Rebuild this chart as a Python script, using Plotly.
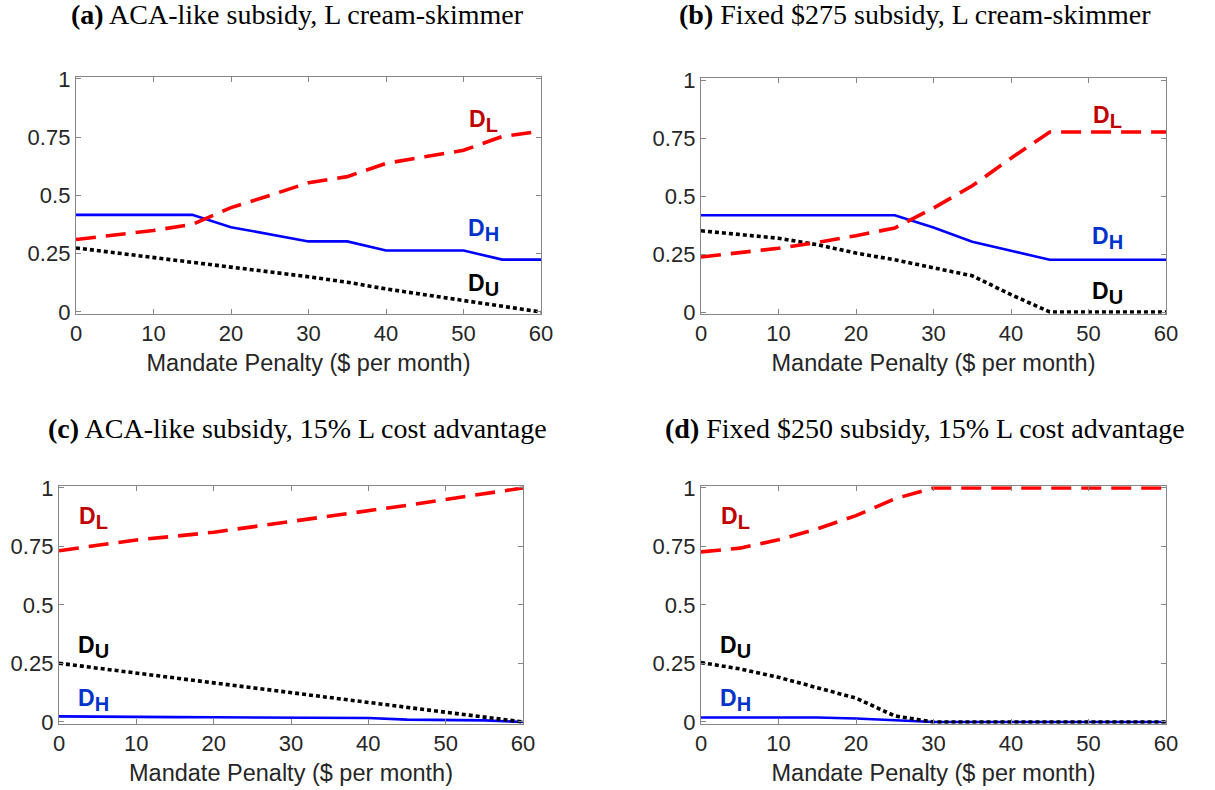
import plotly.graph_objects as go

x_penalty = [0, 5, 10, 15, 20, 25, 30, 35, 40, 45, 50, 55, 60]

# Panel (a): ACA-like subsidy, L cream-skimmer
a_DL = [0.311, 0.330, 0.350, 0.376, 0.448, 0.500, 0.555, 0.581, 0.638, 0.666, 0.694, 0.753, 0.776]
a_DH = [0.417, 0.417, 0.417, 0.417, 0.364, 0.333, 0.303, 0.303, 0.264, 0.264, 0.264, 0.225, 0.225]
a_DU = [0.275, 0.255, 0.235, 0.215, 0.194, 0.172, 0.151, 0.128, 0.099, 0.075, 0.050, 0.025, 0.0]

# Panel (b): Fixed $275 subsidy, L cream-skimmer
b_DL = [0.237, 0.256, 0.275, 0.300, 0.329, 0.362, 0.448, 0.544, 0.663, 0.776, 0.776, 0.776, 0.776]
b_DH = [0.417, 0.417, 0.417, 0.417, 0.417, 0.417, 0.364, 0.303, 0.264, 0.225, 0.225, 0.225, 0.225]
b_DU = [0.350, 0.334, 0.318, 0.290, 0.254, 0.225, 0.189, 0.156, 0.075, 0.0, 0.0, 0.0, 0.0]

# Panel (c): ACA-like subsidy, 15% L cost advantage
c_DL = [0.732, 0.755, 0.778, 0.794, 0.811, 0.834, 0.857, 0.879, 0.901, 0.926, 0.951, 0.975, 1.0]
c_DH = [0.024, 0.024, 0.021, 0.021, 0.020, 0.019, 0.018, 0.018, 0.017, 0.010, 0.009, 0.007, 0.0]
c_DU = [0.251, 0.230, 0.209, 0.188, 0.167, 0.146, 0.125, 0.104, 0.084, 0.063, 0.042, 0.021, 0.0]

# Panel (d): Fixed $250 subsidy, 15% L cost advantage
d_DL = [0.727, 0.743, 0.779, 0.825, 0.882, 0.954, 1.0, 1.0, 1.0, 1.0, 1.0, 1.0, 1.0]
d_DH = [0.019, 0.019, 0.019, 0.019, 0.015, 0.008, 0.0, 0.0, 0.0, 0.0, 0.0, 0.0, 0.0]
d_DU = [0.254, 0.227, 0.191, 0.148, 0.102, 0.026, 0.0, 0.0, 0.0, 0.0, 0.0, 0.0, 0.0]

titles = [
    "<b>(a)</b> ACA-like subsidy, L cream-skimmer",
    "<b>(b)</b> Fixed $275 subsidy, L cream-skimmer",
    "<b>(c)</b> ACA-like subsidy, 15% L cost advantage",
    "<b>(d)</b> Fixed $250 subsidy, 15% L cost advantage",
]
x_ticks = [0, 10, 20, 30, 40, 50, 60]
y_ticks = [0, 0.25, 0.5, 0.75, 1]
y_ticklabels = ["0", "0.25", "0.5", "0.75", "1"]
x_title = "Mandate Penalty ($ per month)"

# label positions (data coords) per panel: (x, y) for D_L, D_H, D_U
label_pos = [
    {"L": (52.6, 0.82), "H": (52.6, 0.35), "U": (52.6, 0.115)},
    {"L": (52.5, 0.84), "H": (52.5, 0.32), "U": (52.5, 0.08)},
    {"L": (4.4, 0.87), "H": (4.4, 0.095), "U": (4.4, 0.32)},
    {"L": (4.4, 0.87), "H": (4.4, 0.095), "U": (4.4, 0.32)},
]

W, H = 1215, 790
# pixel boxes of plot areas: (left, right, top(y=1), bottom(y=0))
boxes = [
    (76, 541, 79, 312),
    (701, 1166, 80, 312),
    (59, 523, 488, 722),
    (701, 1166, 488, 722),
]
pad = 0.008

panels = [
    (a_DL, a_DH, a_DU),
    (b_DL, b_DH, b_DU),
    (c_DL, c_DH, c_DU),
    (d_DL, d_DH, d_DU),
]

fig = go.Figure()
layout = dict(
    width=W, height=H,
    margin=dict(l=0, r=0, t=0, b=0, autoexpand=False),
    paper_bgcolor="white", plot_bgcolor="white",
    showlegend=False,
    font=dict(family="Liberation Sans, Arial", color="#262626"),
)

annotations = []
tick_font = dict(family="Liberation Sans, Arial", size=22, color="#262626")
axis_color = "#868686"

for i, (DL, DH, DU) in enumerate(panels):
    n = "" if i == 0 else str(i + 1)
    xa, ya = "x" + n, "y" + n
    left, right, top, bottom = boxes[i]
    ppu = (bottom - top)
    ytop = top - pad * ppu
    ybot = bottom + pad * ppu
    dom_x = [left / W, right / W]
    dom_y = [1 - ybot / H, 1 - ytop / H]

    fig.add_trace(go.Scatter(x=x_penalty, y=DH, mode="lines", xaxis=xa, yaxis=ya,
                             line=dict(color="#0000FF", width=2.6)))
    fig.add_trace(go.Scatter(x=x_penalty, y=DU, mode="lines", xaxis=xa, yaxis=ya,
                             line=dict(color="#000000", width=3.6, dash="4px,3px")))
    fig.add_trace(go.Scatter(x=x_penalty, y=DL, mode="lines", xaxis=xa, yaxis=ya,
                             line=dict(color="#FF0000", width=3.6, dash="20px,10px")))

    layout["xaxis" + n] = dict(
        domain=dom_x, range=[0, 60], anchor=ya, tickvals=x_ticks,
        ticks="inside", ticklen=5, tickcolor=axis_color, showline=True,
        linecolor=axis_color, linewidth=1.3, mirror="ticks", showgrid=False,
        zeroline=False, tickfont=tick_font, automargin=False,
        title=dict(text=x_title, font=dict(family="Liberation Sans, Arial", size=23.5, color="#262626"),
                   standoff=9),
    )
    layout["yaxis" + n] = dict(
        domain=dom_y, range=[-pad, 1 + pad], anchor=xa, tickvals=y_ticks,
        ticktext=y_ticklabels, ticks="inside", ticklen=5, tickcolor=axis_color,
        showline=True, linecolor=axis_color, linewidth=1.3, mirror="ticks",
        showgrid=False, zeroline=False, tickfont=tick_font, automargin=False,
    )

    lp = label_pos[i]
    for key, col in (("L", "#C00000"), ("H", "#0033CC"), ("U", "#000000")):
        annotations.append(dict(
            x=lp[key][0], y=lp[key][1], xref=xa, yref=ya, showarrow=False,
            text="<b>D<sub><span style='font-size:20px'>%s</span></sub></b>" % key,
            font=dict(family="Liberation Sans, Arial", size=23, color=col),
        ))

# titles
title_pos = [(297, 15), (915, 15), (297, 428), (925, 428)]
for t, (tx, ty) in zip(titles, title_pos):
    annotations.append(dict(
        x=tx / W, y=1 - ty / H, xref="paper", yref="paper", showarrow=False,
        text=t, xanchor="center", yanchor="middle",
        font=dict(family="Liberation Serif, Times New Roman", size=28, color="#000000"),
    ))

layout["annotations"] = annotations
fig.update_layout(**layout)
fig.write_html(
    "out.html",
    config={"displayModeBar": False},
    post_script="document.body.style.margin='0px';document.body.style.overflow='hidden';",
)
